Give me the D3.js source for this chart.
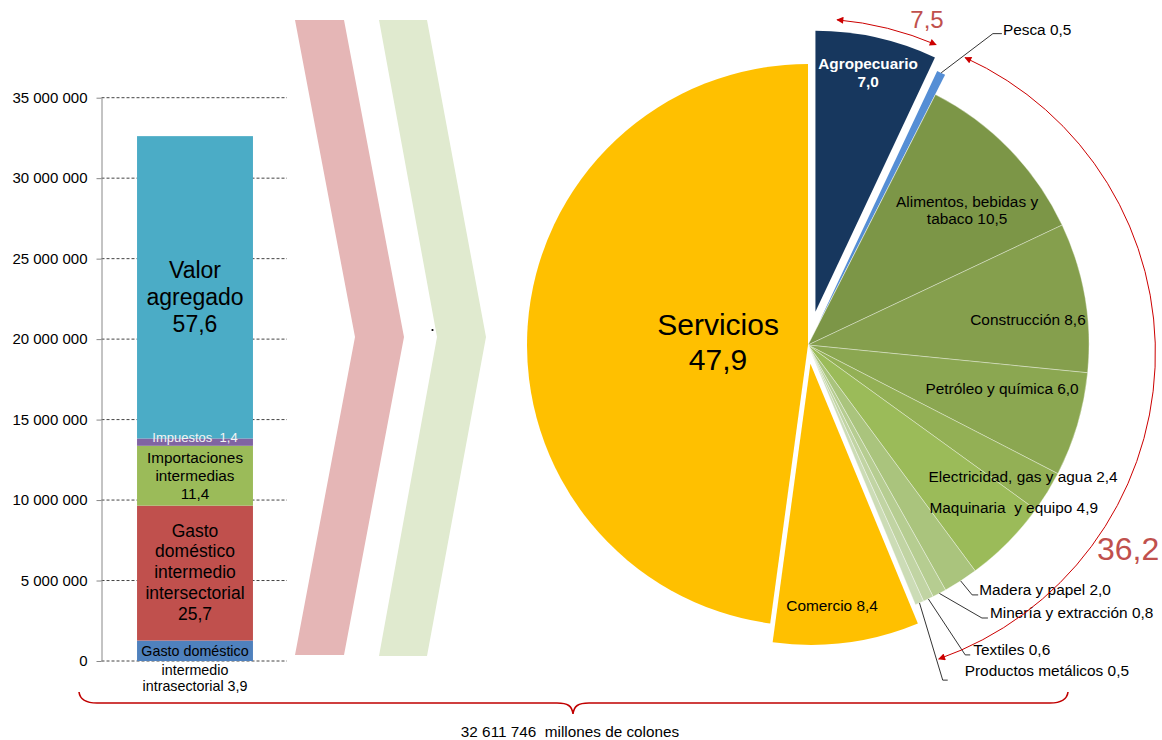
<!DOCTYPE html>
<html><head><meta charset="utf-8">
<script src="https://cdn.jsdelivr.net/npm/d3@7"></script>
<style>
body{margin:0;background:#fff}
svg{display:block;font-family:"Liberation Sans",Arial,sans-serif}
</style>
</head><body>
<svg id="chart" width="1162" height="740"></svg>
<script>
// ---------------- DATA ----------------
const barCategories = ["Gasto doméstico intermedio intrasectorial","Gasto doméstico intermedio intersectorial","Importaciones intermedias","Impuestos","Valor agregado"];
const barShares = [3.9, 25.7, 11.4, 1.4, 57.6];
const barTotal = 32611746;
const yTickValues = [0, 5000000, 10000000, 15000000, 20000000, 25000000, 30000000, 35000000];
const totalCaption = "32 611 746  millones de colones";

const pieSectors = ["Agropecuario","Pesca","Alimentos, bebidas y tabaco","Construcción","Petróleo y química","Electricidad, gas y agua","Maquinaria  y equipo","Madera y papel","Minería y extracción","Textiles","Productos metálicos","Comercio","Servicios"];
const pieShares = [7.0, 0.5, 10.5, 8.6, 6.0, 2.4, 4.9, 2.0, 0.8, 0.6, 0.5, 8.4, 47.9];
const groupLabels = ["7,5", "36,2"];

// ---------------- STYLE ----------------
const barColors = ["#4F81BD","#C0504D","#9BBB59","#8064A2","#4BACC6"];
const pieColors = ["#17375E","#558ED5","#7C9647","#859F4D","#8BA751","#93B055","#9BBB59","#AAC47D","#B6CD91","#C1D4A3","#CCDCB6","#FFC000","#FFC000"];
const explode = {"Agropecuario":34, "Pesca":22, "Comercio":19};
const fmtNum = v => v.toFixed(1).replace(".", ",");
const fmtTick = d => d3.format(",")(d).replace(/,/g, " ");
const LBL = 15.4;

const svg = d3.select("#chart");
const rad = Math.PI/180;
const polar = (cx, cy, deg, r) => [cx + r*Math.sin(deg*rad), cy - r*Math.cos(deg*rad)];

// ---------------- DECORATIVE CHEVRONS ----------------
svg.append("polygon").attr("points","295,20 344,20 404,337 344,655 295,655 355,337").attr("fill","#E5B6B6");
svg.append("polygon").attr("points","379,20 427,20 486,337 427,656 379,656 437,337").attr("fill","#E0EACF");
svg.append("circle").attr("cx",432.5).attr("cy",330).attr("r",1.1).attr("fill","#000");

// ---------------- STACKED BAR ----------------
const y = d3.scaleLinear().domain([0, 35000000]).range([661, 97.7]);
const x = d3.scaleBand().domain(["total"]).range([103, 287]).paddingInner(0.37).paddingOuter(0.185);
const axisX = 101.5;

// gridlines
svg.append("g").selectAll("line").data(yTickValues).join("line")
  .attr("x1", axisX).attr("x2", 287)
  .attr("y1", d => y(d)).attr("y2", d => y(d))
  .attr("stroke", "#444").attr("stroke-width", 1).attr("stroke-dasharray", "3,2");

// axis
const axis = svg.append("g").attr("transform", `translate(${axisX},0)`)
  .call(d3.axisLeft(y).tickValues(yTickValues).tickFormat(fmtTick).tickSize(5).tickSizeOuter(0).tickPadding(9));
axis.select(".domain").attr("stroke", "#888");
axis.selectAll(".tick line").attr("stroke", "#888");
axis.selectAll(".tick text").attr("font-size", 15).attr("fill", "#000").attr("font-family", "Liberation Sans, Arial, sans-serif");

// stacked segments
let cum = 0;
const segs = barShares.map((s, i) => {
  const v0 = cum; cum += s;
  return {name: barCategories[i], share: s, y0: v0/100*barTotal, y1: cum/100*barTotal, color: barColors[i]};
});
svg.append("g").selectAll("rect").data(segs).join("rect")
  .attr("x", x("total")).attr("width", x.bandwidth())
  .attr("y", d => y(d.y1)).attr("height", d => y(d.y0) - y(d.y1))
  .attr("fill", d => d.color);

const barCx = x("total") + x.bandwidth()/2;
function multiline(lines, cx, cy, size, lh, fill, weight) {
  const g = svg.append("g");
  lines.forEach((t, i) => {
    g.append("text").attr("x", cx).attr("y", cy + (i - (lines.length-1)/2)*lh)
      .attr("dy", "0.35em").attr("text-anchor", "middle")
      .attr("font-size", size).attr("fill", fill || "#000")
      .attr("font-weight", weight || "normal")
      .style("white-space", "pre").text(t);
  });
}
const mid = d => (y(d.y0) + y(d.y1))/2;
// segment labels
multiline(["Gasto doméstico"], barCx, mid(segs[0]) + 0.5, 14.3, 16);
multiline(["intermedio", "intrasectorial " + fmtNum(segs[0].share)], barCx, 678, 14.3, 15.5);
multiline(["Gasto","doméstico","intermedio","intersectorial", fmtNum(segs[1].share)], barCx, mid(segs[1]) - 1, 17.5, 20.8);
multiline(["Importaciones","intermedias", fmtNum(segs[2].share)], barCx, mid(segs[2]), 15.3, 18);
multiline(["Impuestos  " + fmtNum(segs[3].share)], barCx, mid(segs[3]) - 5, 13, 14, "#F4F4F4");
multiline(["Valor","agregado", fmtNum(segs[4].share)], barCx, mid(segs[4]) + 10, 23, 27);

// ---------------- PIE ----------------
const pcx = 808, pcy = 345, R = 281;
const pieData = pieSectors.map((n, i) => ({name: n, v: pieShares[i], color: pieColors[i]}));
const arcs = d3.pie().sort(null).value(d => d.v)(pieData);
const arcGen = d3.arc().innerRadius(0).outerRadius(R);
const midDeg = a => (a.startAngle + a.endAngle)/2 / rad;
const centerOf = a => polar(pcx, pcy, midDeg(a), explode[a.data.name] || 0);

const greenNames = pieSectors.slice(2, 11);
svg.append("g").selectAll("path").data(arcs).join("path")
  .attr("d", arcGen)
  .attr("transform", a => `translate(${centerOf(a)})`)
  .attr("fill", a => a.data.color)
  .attr("stroke", a => greenNames.includes(a.data.name) ? "rgba(255,255,255,0.5)" : "none")
  .attr("stroke-width", 0.7);

const byName = {};
arcs.forEach(a => byName[a.data.name] = a);

// inside labels: polar placement (angle deg, radius) from the slice's own centre
const insideLayout = [
  {name:"Agropecuario", a:12.4, r:245, lines:["Agropecuario", fmtNum(7.0)], size:15.3, lh:18, fill:"#fff", weight:"bold"},
  {name:"Alimentos, bebidas y tabaco", a:49.7, r:208.6, lines:["Alimentos, bebidas y", "tabaco " + fmtNum(10.5)], size:LBL, lh:17},
  {name:"Construcción", a:83.5, r:221.4, lines:["Construcción " + fmtNum(8.6)], size:LBL, lh:17},
  {name:"Petróleo y química", a:102.8, r:199, lines:["Petróleo y química " + fmtNum(6.0)], size:LBL, lh:17},
  {name:"Electricidad, gas y agua", a:121.4, r:252, lines:["Electricidad, gas y agua " + fmtNum(2.4)], size:LBL, lh:17},
  {name:"Maquinaria  y equipo", a:128.4, r:262.5, lines:["Maquinaria  y equipo " + fmtNum(4.9)], size:LBL, lh:17},
  {name:"Comercio", a:174.9, r:243, lines:["Comercio " + fmtNum(8.4)], size:LBL, lh:17},
  {name:"Servicios", a:272.2, r:90, lines:["Servicios", fmtNum(47.9)], size:30, lh:35}
];
insideLayout.forEach(L => {
  const c = centerOf(byName[L.name]);
  const p = polar(c[0], c[1], L.a, L.r);
  multiline(L.lines, p[0], p[1], L.size, L.lh, L.fill, L.weight);
});

// outside labels with leader lines
const outsideLayout = [
  {name:"Pesca", a:31.0, r:340.2, tick:9, tx:10, ty:-4, label:"Pesca " + fmtNum(0.5)},
  {name:"Madera y papel", a:146.7, r:299, tick:6, tx:7, ty:-5, label:"Madera y papel " + fmtNum(2.0)},
  {name:"Minería y extracción", a:147.5, r:323.7, tick:6, tx:8, ty:-5, label:"Minería y extracción " + fmtNum(0.8)},
  {name:"Textiles", a:153.1, r:347.5, tick:5, tx:8, ty:-5, label:"Textiles " + fmtNum(0.6)},
  {name:"Productos metálicos", a:158.1, r:361.2, tick:5, tx:22, ty:-10, label:"Productos metálicos " + fmtNum(0.5)}
];
outsideLayout.forEach(L => {
  const a = byName[L.name];
  const c = centerOf(a);
  const s = polar(c[0], c[1], midDeg(a), R);
  const e = polar(c[0], c[1], L.a, L.r);
  svg.append("polyline")
    .attr("points", `${s[0]},${s[1]} ${e[0]},${e[1]} ${e[0] + L.tick},${e[1]}`)
    .attr("fill", "none").attr("stroke", "#000").attr("stroke-width", 0.8);
  svg.append("text").attr("x", e[0] + L.tx).attr("y", e[1] + L.ty).attr("dy", "0.35em")
    .attr("font-size", LBL).style("white-space", "pre").text(L.label);
});

// ---------------- GROUP ARROWS ----------------
const defs = svg.append("defs");
defs.append("marker").attr("id", "arr").attr("viewBox", "0 0 10 10")
  .attr("refX", 9).attr("refY", 5).attr("markerWidth", 9).attr("markerHeight", 7)
  .attr("markerUnits", "userSpaceOnUse").attr("orient", "auto-start-reverse")
  .append("path").attr("d", "M0,0 L10,5 L0,10 z").attr("fill", "#CC0000");

function arcArrow(cx, cy, r, d0, d1) {
  const p = d3.path();
  p.arc(cx, cy, r, (d0 - 90)*rad, (d1 - 90)*rad, false);
  svg.append("path").attr("d", p.toString()).attr("fill", "none")
    .attr("stroke", "#CC0000").attr("stroke-width", 1)
    .attr("marker-start", "url(#arr)").attr("marker-end", "url(#arr)");
}
arcArrow(pcx, pcy, 326.5, 5.1, 23.1);
arcArrow(pcx + 23, pcy + 8, 324.4, 24.4, 160.6);

svg.append("text").attr("x", 927).attr("y", 20).attr("dy", "0.35em").attr("text-anchor", "middle")
  .attr("font-size", 24).attr("fill", "#C0504D").text(groupLabels[0]);
svg.append("text").attr("x", 1097).attr("y", 549).attr("dy", "0.35em")
  .attr("font-size", 32).attr("fill", "#C0504D").text(groupLabels[1]);

// ---------------- BRACE + CAPTION ----------------
svg.append("path")
  .attr("d", "M79,692 C80,700 86,703 97,703 L557,703 C568,703 572,706 573,714 C574,706 578,703 589,703 L1050,703 C1061,703 1067,700 1068,692")
  .attr("fill", "none").attr("stroke", "#C00000").attr("stroke-width", 1.6);
svg.append("text").attr("x", 570).attr("y", 731.5).attr("dy", "0.35em").attr("text-anchor", "middle")
  .attr("font-size", 15.3).style("white-space", "pre").text(totalCaption);
</script>
</body></html>
